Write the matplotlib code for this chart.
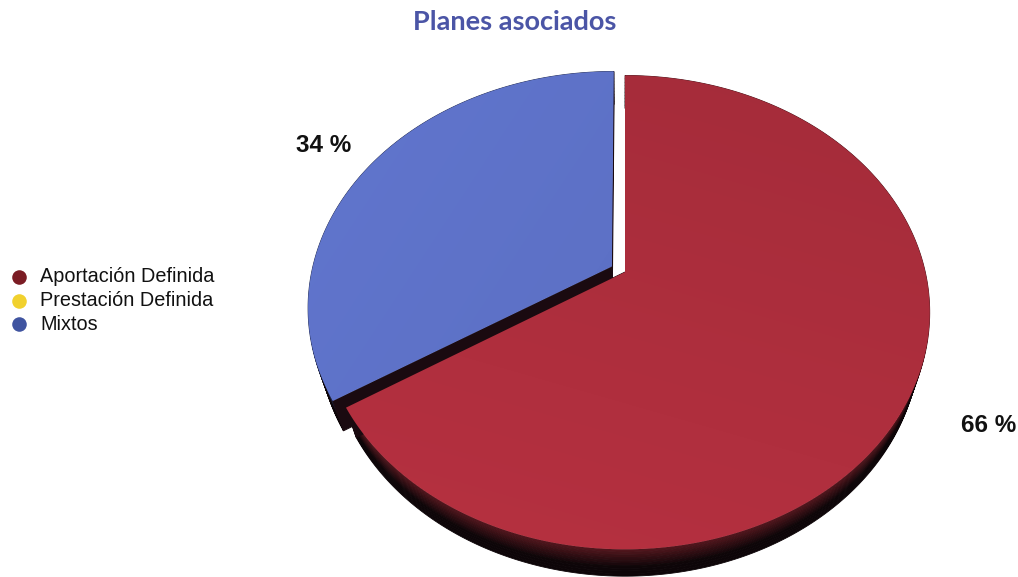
import numpy as np
import matplotlib
matplotlib.use("Agg")
import matplotlib.pyplot as plt
from matplotlib.patches import Polygon
from matplotlib.colors import to_rgb

# Datos del grafico
categorias = ["Aportación Definida", "Prestación Definida", "Mixtos"]
valores = [66, 0, 34]
colores_leyenda = ["#7b1c24", "#f1d12e", "#4054a0"]
colores_cara = ["#b02f3e", "#f1d12e", "#5d71c6"]
separacion = [0.0, 0.0, 0.05]
titulo = "Planes asociados"

# Parametros de la perspectiva (pixeles de la figura)
cx, cy = 625, 272
elev = np.radians(50)
s, c = np.sin(elev), np.cos(elev)
D = 3.77
f = 1132
grosor = 0.17


def proyecta(X, Z, V=0.0):
    yc = Z * s + V * c
    zc = Z * c - V * s
    w = f / (D + zc)
    return cx + X * w, cy - yc * w


fig = plt.figure(figsize=(10.18, 5.77), dpi=100)
ax = fig.add_axes([0, 0, 1, 1])
ax.set_xlim(0, 1018)
ax.set_ylim(577, 0)
ax.axis("off")

# Angulos de cada porcion (sentido horario desde arriba)
total = sum(valores)
porciones = []
inicio = 90.0
for i, v in enumerate(valores):
    barrido = 360.0 * v / total
    if v > 0:
        fin = inicio - barrido
        medio = np.radians((inicio + fin) / 2)
        ox = separacion[i] * np.cos(medio)
        oz = separacion[i] * np.sin(medio)
        ang = np.radians(np.linspace(inicio, fin, 300))
        porciones.append((i, ang, ox, oz, medio))
        inicio = fin

yy, xx = np.mgrid[0:577, 0:1018]

# Caras laterales (oscuras) primero
for i, ang, ox, oz, medio in porciones:
    X = ox + np.cos(ang)
    Z = oz + np.sin(ang)
    base = np.array(to_rgb(colores_cara[i])) * 0.45
    capas = 10
    for k in range(capas):
        v0 = -grosor * k / capas
        v1 = -grosor * (k + 1) / capas
        sx0, sy0 = proyecta(X, Z, v0)
        sx1, sy1 = proyecta(X, Z, v1)
        pts = np.column_stack([np.r_[sx0, sx1[::-1]], np.r_[sy0, sy1[::-1]]])
        a = min(1.0, 1.6 * k / capas)
        col = base * (1 - a) + np.array([0.05, 0.02, 0.03]) * a
        ax.add_patch(Polygon(pts, closed=True, fc=col, ec=col, lw=0.6))
    # caras radiales
    for a in (ang[0], ang[-1]):
        ex, ez = ox + np.cos(a), oz + np.sin(a)
        p = [proyecta(ox, oz), proyecta(ex, ez), proyecta(ex, ez, -grosor), proyecta(ox, oz, -grosor)]
        ax.add_patch(Polygon(p, closed=True, fc="#1a0a10", ec="#1a0a10", lw=0.6))

# Caras superiores con degradado
for i, ang, ox, oz, medio in porciones:
    X = np.r_[ox, ox + np.cos(ang)]
    Z = np.r_[oz, oz + np.sin(ang)]
    sx, sy = proyecta(X, Z)
    poli = Polygon(np.column_stack([sx, sy]), closed=True, fc="none", ec="none")
    ax.add_patch(poli)
    base = np.array(to_rgb(colores_cara[i]))
    t = np.clip((yy - 75) / 475.0, 0, 1)
    u = np.clip((xx - 310) / 620.0, 0, 1)
    if i == 0:
        fac = 0.96 + 0.08 * t - 0.03 * u
    else:
        fac = 1.04 - 0.06 * u - 0.03 * t
    img = np.clip(base[None, None, :] * fac[:, :, None], 0, 1)
    im = ax.imshow(img, extent=(0, 1018, 577, 0), interpolation="bilinear", zorder=2)
    im.set_clip_path(poli)

# Etiquetas de porcentaje
for i, ang, ox, oz, medio in porciones:
    lx, ly = proyecta(1.25 * np.cos(medio), 1.25 * np.sin(medio))
    ax.text(lx - 3, ly - 1, f"{valores[i]} %", ha="center", va="center",
            fontsize=17.5, fontweight="bold", family="Liberation Sans", color="#111111", zorder=3)

# Titulo
ax.text(515, 22, titulo, ha="center", va="center", fontsize=19.5,
        fontweight="bold", family="Lato", color="#4b55a6", zorder=3)

# Leyenda
for k, (nombre, col) in enumerate(zip(categorias, colores_leyenda)):
    y = 277 + 23.5 * k
    ax.scatter([19], [y], s=110, color=col, zorder=3, linewidths=0)
    ax.text(40, y, nombre, ha="left", va="center", fontsize=14.3,
            family="Liberation Sans", color="#111111", zorder=3)

fig.savefig("out.png", dpi=100)
